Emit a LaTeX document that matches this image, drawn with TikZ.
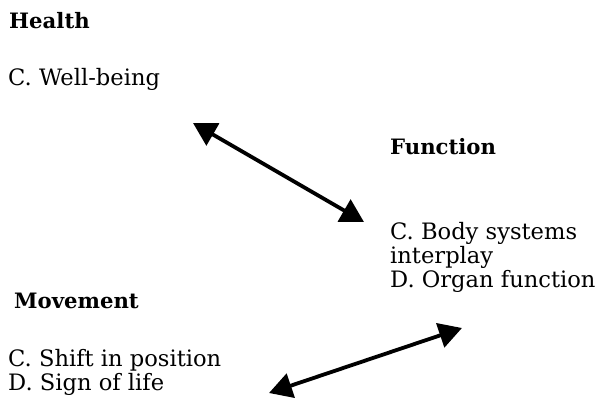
\documentclass[tikz,border=0pt]{standalone}
\usepackage{fontspec}
\setmainfont{DejaVu Serif}
\usetikzlibrary{arrows.meta}
\begin{document}
\begin{tikzpicture}[x=1pt,y=-1pt,
  lbl/.style={anchor=base west,inner sep=0pt,font=\fontsize{22.6}{24}\selectfont},
  head/.style={anchor=base west,inner sep=0pt,font=\fontsize{21.2}{24}\selectfont\bfseries},
  dbl/.style={line width=3.8pt,{Triangle[length=23pt,width=25pt]}-{Triangle[length=23pt,width=25pt]}}]
  \useasboundingbox (0,0) rectangle (606,404);
  % Health
  \node[head] (health) at (9,29) {Health};
  \node[lbl] (healthC) at (8,86) {C. Well-being};
  % Function
  \node[head] (func) at (390,154) {Function};
  \node[lbl] (funcC) at (390,239) {C. Body systems};
  \node[lbl] (funcC2) at (390,263) {interplay};
  \node[lbl] (funcD) at (390,287) {D. Organ function};
  % Movement
  \node[head] (move) at (14,308) {Movement};
  \node[lbl] (moveC) at (8,366) {C. Shift in position};
  \node[lbl] (moveD) at (8,390) {D. Sign of life};
  % links
  \coordinate (a1) at (193,123);
  \coordinate (a2) at (364,222);
  \coordinate (b1) at (269,393);
  \coordinate (b2) at (462,328);
  \draw[dbl] (a1) -- (a2);
  \draw[dbl] (b1) -- (b2);
\end{tikzpicture}
\end{document}
